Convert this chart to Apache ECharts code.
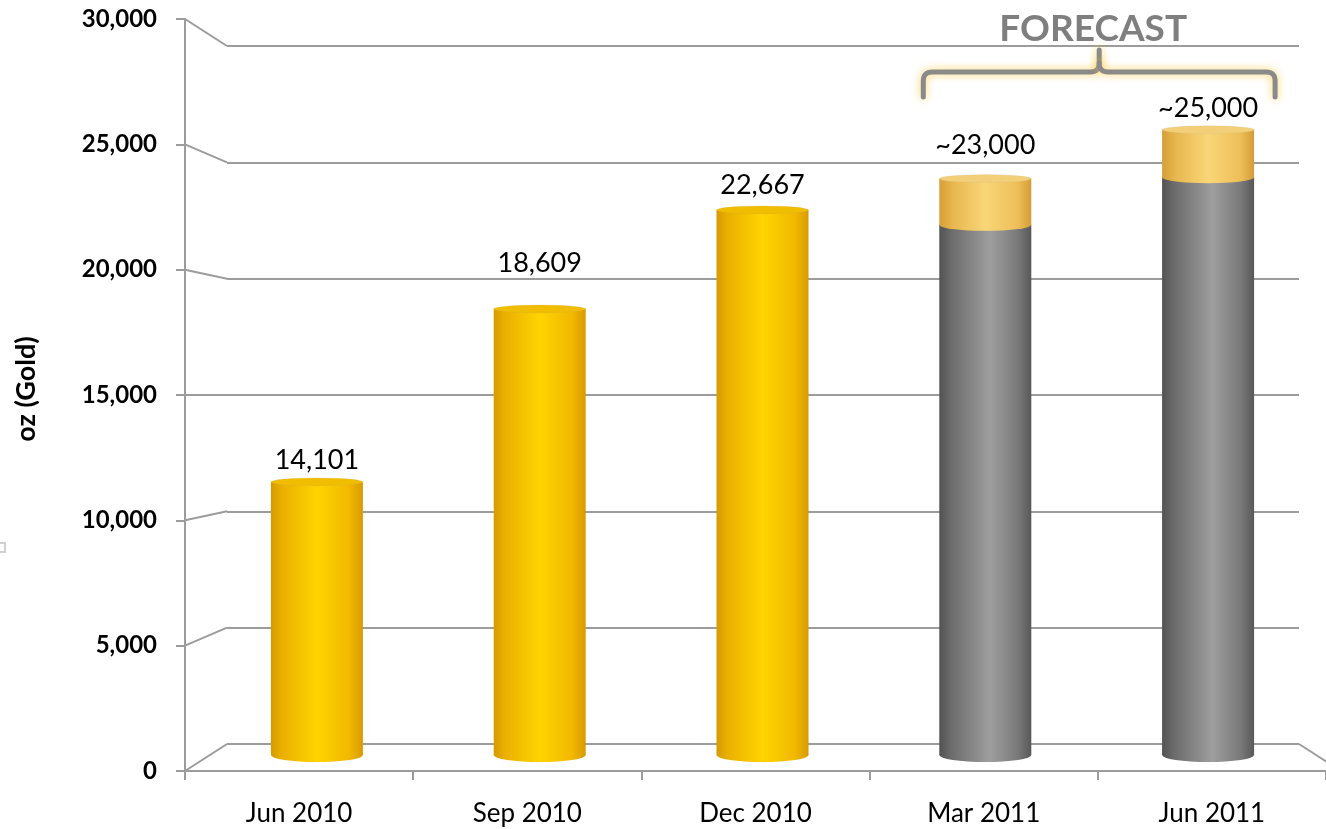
<!DOCTYPE html>
<html><head><meta charset="utf-8">
<script src="https://cdn.jsdelivr.net/npm/echarts@6/dist/echarts.min.js"></script>
<style>html,body{margin:0;padding:0;background:#fff}#c{width:1326px;height:829px}</style>
</head><body><div id="c"></div>
<script>
// ---------- data ----------
const categories = ['Jun 2010', 'Sep 2010', 'Dec 2010', 'Mar 2011', 'Jun 2011'];
const actualValues = [10900, 17800, 21750, null, null];     // gold bars (as drawn)
const forecastBase = [null, null, null, 21150, 23050];      // grey part of forecast bars
const forecastTop = [null, null, null, 1850, 1900];         // pale gold cap of forecast bars
const dataLabels = ['14,101', '18,609', '22,667', '~23,000', '~25,000'];
const yMin = 0, yMax = 30000, yInterval = 5000;
const yTickValues = [0, 5000, 10000, 15000, 20000, 25000, 30000];

// ---------- style ----------
const FONT = 'Lato';
const LINE = '#9c9c9c';
const FRONT_LEFT = 185, BACK_LEFT = 227, BACK_RIGHT = 1299;
const BAR_W = 92;
const labelGaps = [8, 32, 11, 20, 8];

const LG = echarts.graphic.LinearGradient;
const gold = () => new LG(0, 0, 1, 0, [
  {offset: 0, color: '#d69a00'}, {offset: 0.12, color: '#eab000'},
  {offset: 0.5, color: '#ffd400'}, {offset: 0.85, color: '#f2b900'}, {offset: 1, color: '#d89a00'}]);
const pale = () => new LG(0, 0, 1, 0, [
  {offset: 0, color: '#d69e38'}, {offset: 0.15, color: '#e8b74f'},
  {offset: 0.5, color: '#f9d677'}, {offset: 0.85, color: '#eebf58'}, {offset: 1, color: '#d59c38'}]);
const grey = () => new LG(0, 0, 1, 0, [
  {offset: 0, color: '#525252'}, {offset: 0.12, color: '#6a6a6a'},
  {offset: 0.55, color: '#9e9e9e'}, {offset: 0.85, color: '#7a7a7a'}, {offset: 1, color: '#585858'}]);

const isForecast = categories.map((c, i) => forecastBase[i] != null);
const totals = categories.map((c, i) => (actualValues[i] || 0) + (forecastBase[i] || 0) + (forecastTop[i] || 0));
const dash = v => (v == null ? '-' : v);

const chart = echarts.init(document.getElementById('c'), null, {renderer: 'canvas'});

const hiddenX = i => ({type: 'category', gridIndex: i, data: categories, show: false});

const option = {
  backgroundColor: '#fff',
  animation: false,
  textStyle: {fontFamily: FONT},
  grid: [
    {left: FRONT_LEFT, top: 19, width: 1155, bottom: 58},
    {left: BACK_LEFT, top: 46, right: 1326 - BACK_RIGHT, bottom: 85},
    {left: 205.5, width: 1114, top: 3, bottom: 74}
  ],
  xAxis: [
    {type: 'category', gridIndex: 0, data: categories, boundaryGap: true,
     axisLine: {lineStyle: {color: LINE, width: 2}},
     axisTick: {show: true, length: 9, lineStyle: {color: LINE, width: 2}},
     axisLabel: {color: '#000', fontFamily: FONT, fontSize: 26, margin: 30}},
    hiddenX(1), hiddenX(2)
  ],
  yAxis: [
    {type: 'value', gridIndex: 0, min: yMin, max: yMax, interval: yInterval,
     axisLine: {show: true, lineStyle: {color: LINE, width: 2}},
     axisTick: {show: true, length: 9, lineStyle: {color: LINE, width: 2}},
     splitLine: {show: false},
     axisLabel: {color: '#000', fontFamily: FONT, fontWeight: 'bold', fontSize: 24, margin: 28,
                 formatter: v => v.toLocaleString('en-US')}},
    {type: 'value', gridIndex: 1, min: yMin, max: yMax, interval: yInterval,
     axisLine: {show: false}, axisTick: {show: false}, axisLabel: {show: false},
     splitLine: {show: true, lineStyle: {color: LINE, width: 2}}},
    {type: 'value', gridIndex: 2, min: yMin, max: yMax, show: false}
  ],
  series: [
    {type: 'pictorialBar', xAxisIndex: 2, yAxisIndex: 2, symbol: 'circle', z: 1,
     symbolSize: [BAR_W, 14], symbolOffset: [0, '50%'], symbolPosition: 'start', barGap: '-100%',
     data: totals.map((v, i) => ({value: v, itemStyle: {color: isForecast[i] ? grey() : gold()}})),
     silent: true},
    {type: 'bar', name: 'Actual', xAxisIndex: 2, yAxisIndex: 2, stack: 'v', barWidth: BAR_W, z: 2,
     itemStyle: {color: gold()},
     data: actualValues.map((v, i) => v == null ? '-' : ({value: v, label: {distance: labelGaps[i]}})),
     label: {show: true, position: 'top', color: '#000', fontFamily: FONT, fontSize: 27,
             formatter: p => dataLabels[p.dataIndex]}},
    {type: 'bar', name: 'Forecast base', xAxisIndex: 2, yAxisIndex: 2, stack: 'v', barWidth: BAR_W, z: 2,
     itemStyle: {color: grey()}, data: forecastBase.map(dash)},
    {type: 'bar', name: 'Forecast', xAxisIndex: 2, yAxisIndex: 2, stack: 'v', barWidth: BAR_W, z: 2,
     itemStyle: {color: pale()},
     data: forecastTop.map((v, i) => v == null ? '-' : ({value: v, label: {distance: labelGaps[i]}})),
     label: {show: true, position: 'top', color: '#000', fontFamily: FONT, fontSize: 27,
             formatter: p => dataLabels[p.dataIndex]}},
    {type: 'pictorialBar', xAxisIndex: 2, yAxisIndex: 2, symbol: 'circle', z: 3,
     symbolSize: [BAR_W, 12], symbolOffset: [0, '-50%'], symbolPosition: 'end', barGap: '-100%',
     itemStyle: {color: pale()}, data: forecastBase.map(dash), silent: true},
    {type: 'pictorialBar', xAxisIndex: 2, yAxisIndex: 2, symbol: 'circle', z: 4,
     symbolSize: [BAR_W, 8], symbolOffset: [0, '-50%'], symbolPosition: 'end', barGap: '-100%',
     data: totals.map((v, i) => ({value: v, itemStyle: isForecast[i]
        ? {color: '#f2cf78', borderColor: '#b8ad98', borderWidth: 1}
        : {color: '#f0bd00', borderColor: '#a99a78', borderWidth: 1}})),
     silent: true}
  ]
};
chart.setOption(option);

// ---------- decorations derived from the axes ----------
const g = [];
yTickValues.forEach(v => {
  const yf = chart.convertToPixel({yAxisIndex: 0}, v);
  const yb = chart.convertToPixel({yAxisIndex: 1}, v);
  g.push({type: 'line', z: 5, silent: true,
          shape: {x1: FRONT_LEFT, y1: yf, x2: BACK_LEFT, y2: yb},
          style: {stroke: LINE, lineWidth: 2}});
});
{
  const yb0 = chart.convertToPixel({yAxisIndex: 1}, 0);
  const yf0 = chart.convertToPixel({yAxisIndex: 0}, 0);
  g.push({type: 'line', z: 5, silent: true,
          shape: {x1: BACK_RIGHT, y1: yb0, x2: BACK_RIGHT + (BACK_LEFT - FRONT_LEFT), y2: yf0},
          style: {stroke: LINE, lineWidth: 2}});
}
function quad(p0, c, p1, n) {
  const out = [];
  for (let k = 1; k <= n; k++) {
    const t = k / n, u = 1 - t;
    out.push([u * u * p0[0] + 2 * u * t * c[0] + t * t * p1[0], u * u * p0[1] + 2 * u * t * c[1] + t * t * p1[1]]);
  }
  return out;
}
{
  const xa = chart.convertToPixel({xAxisIndex: 2}, categories[3]);
  const xb = chart.convertToPixel({xAxisIndex: 2}, categories[4]);
  const L = xa - 62, R = xb + 67, M = (L + R) / 2;
  const yEnd = 97, yH = 72, yPk = 50, r = 9;
  const left = [[L, yEnd], [L, yH + r], ...quad([L, yH + r], [L, yH], [L + r, yH], 8),
                [M - r, yH], ...quad([M - r, yH], [M, yH], [M, yH - r], 8), [M, yPk]];
  const right = [[M, yH - r], ...quad([M, yH - r], [M, yH], [M + r, yH], 8),
                 [R - r, yH], ...quad([R - r, yH], [R, yH], [R, yH + r], 8), [R, yEnd]];
  const st = {fill: null, stroke: '#8a8a8a', lineWidth: 5, lineCap: 'round', lineJoin: 'round',
              shadowBlur: 8, shadowColor: 'rgba(255,195,40,0.75)'};
  g.push({type: 'polyline', z: 6, silent: true, shape: {points: left}, style: st});
  g.push({type: 'polyline', z: 6, silent: true, shape: {points: right}, style: st});
  g.push({type: 'text', z: 6, silent: true, x: M - 6, y: 29,
          style: {text: 'FORECAST', fill: '#7f7f7f', font: `bold 37px ${FONT}`,
                  textAlign: 'center', textVerticalAlign: 'middle'}});
}
g.push({type: 'text', z: 6, silent: true, x: 26, y: 389, rotation: Math.PI / 2,
        style: {text: 'oz (Gold)', fill: '#000', font: `bold 27px ${FONT}`,
                textAlign: 'center', textVerticalAlign: 'middle'}});
g.push({type: 'rect', z: 6, silent: true, shape: {x: -3, y: 543, width: 8, height: 9},
        style: {fill: '#fff', stroke: '#cfcfcf', lineWidth: 2}});
chart.setOption({graphic: g});
</script>
</body></html>
